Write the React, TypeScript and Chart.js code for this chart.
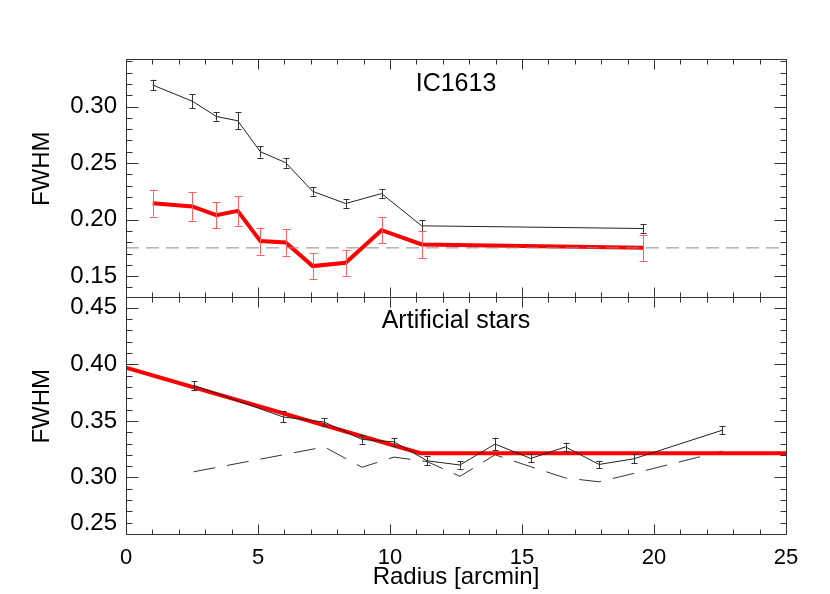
import React, { useEffect, useRef } from "react";
import { Chart, registerables } from "chart.js";

Chart.register(...registerables);

// ---- Top panel (IC1613) ----
const radiusIC = [1.01, 2.51, 3.42, 4.23, 5.09, 6.05, 7.07, 8.32, 9.68, 11.2, 19.6];
const fwhmObserved = [0.319, 0.3047, 0.2912, 0.2874, 0.26, 0.2503, 0.225, 0.2142, 0.223, 0.1945, 0.1921];
const errObserved = [0.0047, 0.0063, 0.0038, 0.0073, 0.0051, 0.0043, 0.0038, 0.0038, 0.0038, 0.0049, 0.0038];
const fwhmCorrected = [0.2145, 0.2116, 0.2039, 0.2077, 0.181, 0.1798, 0.1589, 0.1618, 0.1906, 0.178, 0.175];
const errCorrected = [0.0119, 0.0125, 0.0116, 0.0132, 0.012, 0.0116, 0.0116, 0.0115, 0.0115, 0.012, 0.0118];
const refLineX = [0, 25];
const refLineY = [0.175, 0.175];

// ---- Bottom panel (Artificial stars) ----
const radiusArt = [2.56, 5.95, 7.51, 8.94, 10.15, 11.41, 12.65, 13.98, 15.33, 16.65, 17.92, 19.24, 22.59];
const fwhmArt = [0.3815, 0.3535, 0.349, 0.3336, 0.3315, 0.3147, 0.311, 0.3295, 0.3168, 0.327, 0.3115, 0.3165, 0.3418];
const errArt = [0.0038, 0.0049, 0.0034, 0.0037, 0.0034, 0.0041, 0.0032, 0.0056, 0.0035, 0.0038, 0.0032, 0.004, 0.0038];
const fwhmArtDashed = [0.305, 0.32, 0.327, 0.309, 0.318, 0.314, 0.301, 0.32, 0.3095, 0.2995, 0.2962, 0.3036, 0.3233];
const fitX = [0, 11.15, 25];
const fitY = [0.397, 0.3215, 0.3215];

// ---- Axes ----
const xTickValues = [0, 5, 10, 15, 20, 25];
const topTickValues = [0.15, 0.2, 0.25, 0.3];
const botTickValues = [0.3, 0.35, 0.4, 0.45];
const botExtraLabel = 0.25;
const topRange = [0.132, 0.342];
const botRange = [0.25, 0.46];
const xRange = [0, 25];

const FONT = "'Liberation Sans', Arial, Helvetica, sans-serif";

const pts = (xs: number[], ys: number[]) => xs.map((x, i) => ({ x, y: ys[i] }));

const framePlugin = {
  id: "idlFrame",
  afterDatasetsDraw(chart: any) {
    const ctx = chart.ctx;
    const xs = chart.scales.x;
    chart.data.datasets.forEach((ds: any) => {
      if (!ds.errors) return;
      const ys = chart.scales[ds.yAxisID];
      ctx.save();
      ctx.strokeStyle = ds.errColor;
      ctx.lineWidth = 1;
      ds.data.forEach((p: any, i: number) => {
        const px = Math.round(xs.getPixelForValue(p.x)) + 0.5;
        const y1 = ys.getPixelForValue(p.y - ds.errors[i]);
        const y2 = ys.getPixelForValue(p.y + ds.errors[i]);
        const c = ds.capHalf;
        ctx.beginPath();
        ctx.moveTo(px, y1);
        ctx.lineTo(px, y2);
        ctx.moveTo(px - c, Math.round(y1) + 0.5);
        ctx.lineTo(px + c, Math.round(y1) + 0.5);
        ctx.moveTo(px - c, Math.round(y2) + 0.5);
        ctx.lineTo(px + c, Math.round(y2) + 0.5);
        ctx.stroke();
      });
      ctx.restore();
    });
  },
  afterDraw(chart: any) {
    const ctx = chart.ctx;
    const xs = chart.scales.x;
    const area = chart.chartArea;
    const L = Math.round(area.left) + 0.5;
    const R = Math.round(area.right) + 0.5;
    ctx.save();
    ctx.strokeStyle = "#333";
    ctx.lineWidth = 1;
    for (const id of ["yTop", "yBot"]) {
      const ys = chart.scales[id];
      const T = Math.round(ys.top) + 0.5;
      const B = Math.round(ys.bottom) + 0.5;
      ctx.strokeRect(L, T, R - L, B - T);
      ctx.beginPath();
      const k0 = Math.ceil(ys.min * 100 - 1e-6);
      const k1 = Math.floor(ys.max * 100 + 1e-6);
      for (let k = k0; k <= k1; k++) {
        const py = Math.round(ys.getPixelForValue(k / 100)) + 0.5;
        const len = k % 5 === 0 ? 12 : 6;
        ctx.moveTo(L, py);
        ctx.lineTo(L + len, py);
        ctx.moveTo(R, py);
        ctx.lineTo(R - len, py);
      }
      for (let v = Math.ceil(xs.min); v <= Math.floor(xs.max); v++) {
        const px = Math.round(xs.getPixelForValue(v)) + 0.5;
        const len = v % 5 === 0 ? 10 : 5;
        ctx.moveTo(px, B);
        ctx.lineTo(px, B - len);
        ctx.moveTo(px, T);
        ctx.lineTo(px, T + len);
      }
      ctx.stroke();
    }
    const cx = (area.left + area.right) / 2;
    ctx.fillStyle = "#000";
    ctx.textAlign = "center";
    ctx.textBaseline = "alphabetic";
    ctx.font = `25px ${FONT}`;
    ctx.fillText("IC1613", cx, chart.scales.yTop.top + 32);
    ctx.fillText("Artificial stars", cx, chart.scales.yBot.top + 31);
    ctx.font = `24px ${FONT}`;
    ctx.fillText("Radius [arcmin]", cx, 584);
    ctx.textAlign = "right";
    ctx.textBaseline = "middle";
    ctx.fillText(botExtraLabel.toFixed(2), area.left - 9, chart.scales.yBot.getPixelForValue(botExtraLabel) - 11);
    ctx.textAlign = "center";
    for (const id of ["yTop", "yBot"]) {
      const ys = chart.scales[id];
      ctx.save();
      ctx.translate(42, (ys.top + ys.bottom) / 2 - 9);
      ctx.rotate(-Math.PI / 2);
      ctx.fillText("FWHM", 0, 0);
      ctx.restore();
    }
    ctx.restore();
  },
};

export default function App() {
  const ref = useRef<HTMLCanvasElement | null>(null);
  useEffect(() => {
    document.body.style.margin = "0";
    const canvas = ref.current!;
    const yTickFont = { size: 24, family: FONT };
    const yAxis = (range: number[], ticks: number[]) => ({
      type: "linear",
      position: "left",
      stack: "panels",
      stackWeight: 1,
      min: range[0],
      max: range[1],
      afterBuildTicks: (s: any) => {
        s.ticks = ticks.map((v) => ({ value: v }));
      },
      afterFit: (s: any) => {
        s.width = 126;
      },
      ticks: {
        font: yTickFont,
        color: "#000",
        padding: 9,
        autoSkip: false,
        callback: (v: any) => Number(v).toFixed(2),
      },
      grid: { display: false, drawTicks: false },
      border: { display: false },
    });
    const chart = new Chart(canvas, {
      type: "line",
      data: {
        datasets: [
          {
            label: "observed",
            data: pts(radiusIC, fwhmObserved),
            yAxisID: "yTop",
            borderColor: "#222",
            borderWidth: 1,
            pointRadius: 0,
            order: 3,
            errors: errObserved,
            errColor: "#333",
            capHalf: 3,
          } as any,
          {
            label: "corrected",
            data: pts(radiusIC, fwhmCorrected),
            yAxisID: "yTop",
            borderColor: "#ff0000",
            borderWidth: 4,
            pointRadius: 0,
            order: 2,
            errors: errCorrected,
            errColor: "#ff5f5f",
            capHalf: 4,
          } as any,
          {
            label: "reference",
            data: pts(refLineX, refLineY),
            yAxisID: "yTop",
            borderColor: "#8c8c8c",
            borderWidth: 1,
            borderDash: [13, 7],
            pointRadius: 0,
            order: 1,
          },
          {
            label: "artificial dashed",
            data: pts(radiusArt, fwhmArtDashed),
            yAxisID: "yBot",
            borderColor: "#333",
            borderWidth: 1,
            borderDash: [22, 12],
            pointRadius: 0,
            order: 6,
          },
          {
            label: "fit",
            data: pts(fitX, fitY),
            yAxisID: "yBot",
            borderColor: "#ff0000",
            borderWidth: 4,
            pointRadius: 0,
            order: 5,
          },
          {
            label: "artificial",
            data: pts(radiusArt, fwhmArt),
            yAxisID: "yBot",
            borderColor: "#222",
            borderWidth: 1,
            pointRadius: 0,
            order: 4,
            errors: errArt,
            errColor: "#333",
            capHalf: 3,
          } as any,
        ],
      },
      options: {
        animation: false,
        responsive: false,
        devicePixelRatio: 1,
        layout: { padding: { top: 59, right: 44, left: 0, bottom: 0 } },
        plugins: { legend: { display: false }, tooltip: { enabled: false } },
        elements: { line: { tension: 0 } },
        scales: {
          x: {
            type: "linear",
            min: xRange[0],
            max: xRange[1],
            afterBuildTicks: (s: any) => {
              s.ticks = xTickValues.map((v) => ({ value: v }));
            },
            afterFit: (s: any) => {
              s.height = 60;
            },
            ticks: {
              font: { size: 22, family: FONT },
              color: "#000",
              padding: 11,
              maxRotation: 0,
              autoSkip: false,
              callback: (v: any) => String(v),
            },
            grid: { display: false, drawTicks: false },
            border: { display: false },
          },
          yBot: yAxis(botRange, botTickValues),
          yTop: yAxis(topRange, topTickValues),
        } as any,
      },
      plugins: [framePlugin],
    });
    return () => chart.destroy();
  }, []);
  return (
    <div style={{ position: "fixed", left: 0, top: 0, width: 830, height: 594, background: "#fff" }}>
      <canvas ref={ref} width={830} height={594} style={{ width: 830, height: 594, display: "block" }} />
    </div>
  );
}
